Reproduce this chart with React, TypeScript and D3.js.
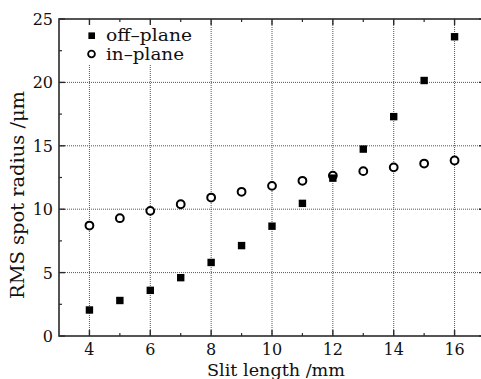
import React from "react";
import * as d3 from "d3";

const slitLength = [4, 5, 6, 7, 8, 9, 10, 11, 12, 13, 14, 15, 16];
const offPlane = [2.05, 2.8, 3.6, 4.6, 5.8, 7.13, 8.66, 10.46, 12.45, 14.74, 17.3, 20.15, 23.6];
const inPlane = [8.71, 9.29, 9.87, 10.39, 10.92, 11.37, 11.84, 12.24, 12.65, 13.0, 13.3, 13.6, 13.84];
const xTicks = [4, 6, 8, 10, 12, 14, 16];
const xMinor = [5, 7, 9, 11, 13, 15];
const yTicks = [0, 5, 10, 15, 20, 25];
const yMinor = [2.5, 7.5, 12.5, 17.5, 22.5];
const seriesNames = ["off\u2013plane", "in\u2013plane"];

const W = 481;
const H = 379;
const FONT = "'DejaVu Serif', 'Liberation Serif', serif";

export default function App() {
  const left = 59, right = 485, top = 19, bottom = 336;
  const x = d3.scaleLinear().domain([3, 17]).range([left, right]);
  const y = d3.scaleLinear().domain([0, 25]).range([bottom, top]);
  const axisColor = "#2a2a2a";
  const gridColor = "#555";

  return (
    <svg
      width={W}
      height={H}
      style={{ position: "absolute", left: 0, top: 0, background: "#fff", overflow: "hidden" }}
      fontFamily={FONT}
    >
      <rect x={0} y={0} width={W} height={H} fill="#fff" />
      {/* grid */}
      {xTicks.map((t) => (
        <line key={"gx" + t} x1={x(t)} x2={x(t)} y1={top} y2={bottom} stroke={gridColor} strokeWidth={1} strokeDasharray="1 1" />
      ))}
      {yTicks.filter((t) => t > 0 && t < 25).map((t) => (
        <line key={"gy" + t} x1={left} x2={right} y1={y(t)} y2={y(t)} stroke={gridColor} strokeWidth={1} strokeDasharray="1 1" />
      ))}
      {/* legend box */}
      <rect x={left + 1} y={top + 1} width={141} height={45} fill="#fff" />
      {/* frame */}
      <rect x={left} y={top} width={right - left} height={bottom - top} fill="none" stroke={axisColor} strokeWidth={1.6} />
      {/* ticks */}
      {xTicks.map((t) => (
        <g key={"tx" + t}>
          <line x1={x(t)} x2={x(t)} y1={bottom} y2={bottom - 6} stroke={axisColor} strokeWidth={1.4} />
          <line x1={x(t)} x2={x(t)} y1={top} y2={top + 6} stroke={axisColor} strokeWidth={1.4} />
          <text x={x(t)} y={354.5} textAnchor="middle" fontSize={16} fill="#111">{t}</text>
        </g>
      ))}
      {xMinor.map((t) => (
        <g key={"mx" + t}>
          <line x1={x(t)} x2={x(t)} y1={bottom} y2={bottom - 3} stroke={axisColor} strokeWidth={1.2} />
          <line x1={x(t)} x2={x(t)} y1={top} y2={top + 3} stroke={axisColor} strokeWidth={1.2} />
        </g>
      ))}
      {yTicks.map((t) => (
        <g key={"ty" + t}>
          <line x1={left} x2={left + 6} y1={y(t)} y2={y(t)} stroke={axisColor} strokeWidth={1.4} />
          <line x1={right} x2={right - 6} y1={y(t)} y2={y(t)} stroke={axisColor} strokeWidth={1.4} />
          <text x={53} y={y(t) + 6} textAnchor="end" fontSize={16} fill="#111">{t}</text>
        </g>
      ))}
      {yMinor.map((t) => (
        <g key={"my" + t}>
          <line x1={left} x2={left + 3} y1={y(t)} y2={y(t)} stroke={axisColor} strokeWidth={1.2} />
          <line x1={right} x2={right - 3} y1={y(t)} y2={y(t)} stroke={axisColor} strokeWidth={1.2} />
        </g>
      ))}
      {/* data */}
      {slitLength.map((s, i) => (
        <circle key={"c" + s} cx={x(s)} cy={y(inPlane[i])} r={3.9} fill="#fff" stroke="#000" strokeWidth={2} />
      ))}
      {slitLength.map((s, i) => (
        <rect key={"s" + s} x={x(s) - 3.7} y={y(offPlane[i]) - 3.7} width={7.4} height={7.4} fill="#000" />
      ))}
      {/* legend */}
      <rect x={91.7 - 3.3} y={35.7 - 3.3} width={6.6} height={6.6} fill="#000" />
      <text x={106} y={40.5} fontSize={16} textLength={86} lengthAdjust="spacingAndGlyphs" fill="#111">{seriesNames[0]}</text>
      <circle cx={91.5} cy={54} r={3.4} fill="#fff" stroke="#000" strokeWidth={1.8} />
      <text x={106} y={59.5} fontSize={16} textLength={78} lengthAdjust="spacingAndGlyphs" fill="#111">{seriesNames[1]}</text>
      {/* axis titles */}
      <text x={276} y={376} textAnchor="middle" fontSize={17} textLength={138} lengthAdjust="spacingAndGlyphs" fill="#111">Slit length /mm</text>
      <text transform="translate(24,195) rotate(-90)" textAnchor="middle" fontSize={19} textLength={208} lengthAdjust="spacingAndGlyphs" fill="#111">RMS spot radius /μm</text>
    </svg>
  );
}
